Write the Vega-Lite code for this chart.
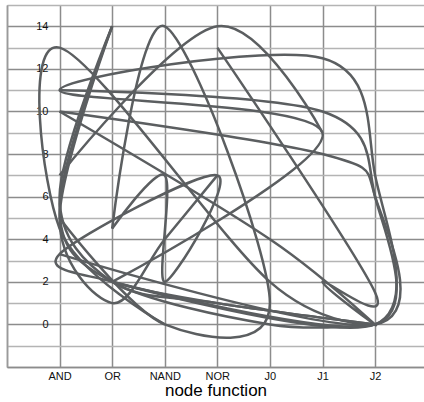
{
  "$schema": "https://vega.github.io/schema/vega-lite/v6.json",
  "width": 417,
  "height": 362,
  "autosize": {"type": "none"},
  "padding": {"left": 7, "top": 5, "right": 0, "bottom": 35},
  "config": {"view": {"stroke": null}},
  "datasets": {
    "runs": [
      {"s": "S1", "o": 1, "pos": 1, "value": 14}, {"s": "S1", "o": 2, "pos": 0, "value": 6}, {"s": "S1", "o": 3, "pos": 1, "value": 2}, {"s": "S1", "o": 4, "pos": 3, "value": 1}, {"s": "S1", "o": 5, "pos": 6, "value": 0},
      {"s": "S2", "o": 1, "pos": 1, "value": 14}, {"s": "S2", "o": 2, "pos": 0, "value": 5.5}, {"s": "S2", "o": 3, "pos": 1, "value": 2}, {"s": "S2", "o": 4, "pos": 4, "value": 0}, {"s": "S2", "o": 5, "pos": 6, "value": 0},
      {"s": "S3", "o": 1, "pos": 1, "value": 14}, {"s": "S3", "o": 2, "pos": 0, "value": 5}, {"s": "S3", "o": 3, "pos": 1, "value": 1}, {"s": "S3", "o": 4, "pos": 2, "value": 4}, {"s": "S3", "o": 5, "pos": 3, "value": 7},
      {"s": "S4", "o": 1, "pos": 0, "value": 7}, {"s": "S4", "o": 2, "pos": 3, "value": 14}, {"s": "S4", "o": 3, "pos": 5, "value": 9},
      {"s": "S5", "o": 1, "pos": 1, "value": 4.5}, {"s": "S5", "o": 2, "pos": 2, "value": 14}, {"s": "S5", "o": 3, "pos": 4, "value": 1}, {"s": "S5", "o": 4, "pos": 2, "value": 0}, {"s": "S5", "o": 5, "pos": 0, "value": 5},
      {"s": "S6", "o": 1, "pos": 2, "value": 0}, {"s": "S6", "o": 2, "pos": 0, "value": 4.5}, {"s": "S6", "o": 3, "pos": 0, "value": 13}, {"s": "S6", "o": 4, "pos": 4, "value": 2}, {"s": "S6", "o": 5, "pos": 6, "value": 0},
      {"s": "S7", "o": 1, "pos": 1, "value": 2}, {"s": "S7", "o": 2, "pos": 5, "value": 9}, {"s": "S7", "o": 3, "pos": 0, "value": 11}, {"s": "S7", "o": 4, "pos": 5, "value": 12.5}, {"s": "S7", "o": 5, "pos": 6, "value": 7}, {"s": "S7", "o": 6, "pos": 6, "value": 0}, {"s": "S7", "o": 7, "pos": 1, "value": 2},
      {"s": "S8", "o": 1, "pos": 0, "value": 10}, {"s": "S8", "o": 2, "pos": 5, "value": 8}, {"s": "S8", "o": 3, "pos": 6, "value": 6}, {"s": "S8", "o": 4, "pos": 6, "value": 0}, {"s": "S8", "o": 5, "pos": 0, "value": 3.3},
      {"s": "S9", "o": 1, "pos": 0, "value": 10}, {"s": "S9", "o": 2, "pos": 4, "value": 4}, {"s": "S9", "o": 3, "pos": 6, "value": 0}, {"s": "S9", "o": 4, "pos": 5, "value": 2}, {"s": "S9", "o": 5, "pos": 6, "value": 1.5}, {"s": "S9", "o": 6, "pos": 3, "value": 13},
      {"s": "S10", "o": 1, "pos": 1, "value": 4.5}, {"s": "S10", "o": 2, "pos": 2, "value": 7}, {"s": "S10", "o": 3, "pos": 2, "value": 2}, {"s": "S10", "o": 4, "pos": 3, "value": 7}, {"s": "S10", "o": 5, "pos": 0, "value": 3.3}, {"s": "S10", "o": 6, "pos": 1, "value": 2}, {"s": "S10", "o": 7, "pos": 3, "value": 1}, {"s": "S10", "o": 8, "pos": 6, "value": 0},
      {"s": "S11", "o": 1, "pos": 0, "value": 11}, {"s": "S11", "o": 2, "pos": 5, "value": 10}, {"s": "S11", "o": 3, "pos": 6, "value": 6}, {"s": "S11", "o": 4, "pos": 6, "value": 0}, {"s": "S11", "o": 5, "pos": 1, "value": 2}
    ]
  },
  "data": {"name": "runs"},
  "mark": {"type": "line", "interpolate": "cardinal", "color": "#5b5e60", "strokeWidth": 2.5},
  "encoding": {
    "x": {
      "field": "pos", "type": "quantitative",
      "scale": {"domain": [-1, 6.93], "nice": false, "zero": false},
      "axis": {
        "values": [-1, 0, 1, 2, 3, 4, 5, 6],
        "grid": true, "gridColor": "#8c8c8c", "gridWidth": 1.5,
        "domain": true, "domainColor": "#8c8c8c", "domainWidth": 1.5,
        "ticks": false,
        "labelExpr": "datum.value >= 0 && datum.value <= 6 ? ['AND','OR','NAND','NOR','J0','J1','J2'][datum.value] : ''",
        "labelFont": "Liberation Sans", "labelFontSize": 11, "labelColor": "#111111", "labelPadding": 3,
        "title": "node function", "titleFont": "Liberation Sans", "titleFontSize": 17, "titleFontWeight": "normal", "titleColor": "#000000", "titlePadding": 1
      }
    },
    "y": {
      "field": "value", "type": "quantitative",
      "scale": {"domain": [-2, 15], "nice": false, "zero": false},
      "axis": {
        "values": [-2, -1, 0, 1, 2, 3, 4, 5, 6, 7, 8, 9, 10, 11, 12, 13, 14, 15],
        "grid": true,
        "gridColor": {"condition": {"test": "datum.value % 2 === 0", "value": "#8c8c8c"}, "value": "#b4b4b4"},
        "gridWidth": 1.5,
        "domain": true, "domainColor": "#9a9a9a", "domainWidth": 1.5,
        "ticks": false,
        "labelExpr": "datum.value >= 0 && datum.value % 2 === 0 ? datum.label : ''",
        "labelFont": "Liberation Sans", "labelFontSize": 11, "labelColor": "#111111",
        "labelAlign": "right", "labelPadding": -41,
        "title": null
      }
    },
    "detail": {"field": "s"},
    "order": {"field": "o"}
  }
}
